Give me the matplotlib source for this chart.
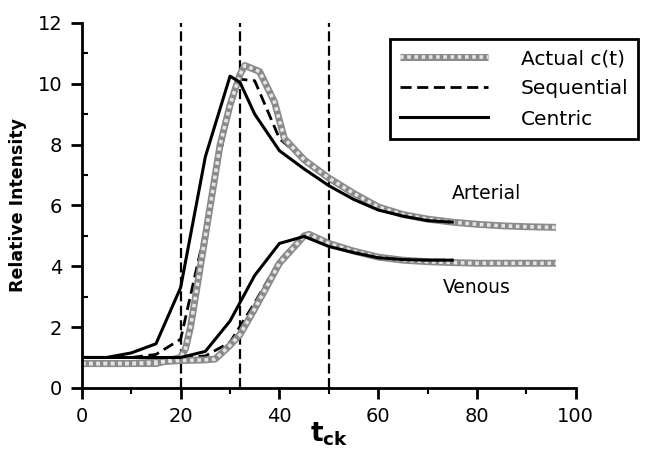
import matplotlib
matplotlib.use('Agg')
import matplotlib.pyplot as plt

# arterial curves
art_t_actual = [0, 5, 10, 15, 20, 21, 22, 24, 26, 28, 30, 32, 33, 36, 39, 41, 45, 50, 55, 60, 65, 70, 75, 80, 85, 90, 96]
art_actual = [0.8, 0.8, 0.8, 0.8, 1.0, 1.3, 2.0, 4.0, 6.0, 8.0, 9.3, 10.3, 10.6, 10.4, 9.4, 8.2, 7.5, 6.9, 6.4, 5.95, 5.7, 5.55, 5.45, 5.38, 5.33, 5.3, 5.28]
art_t_seq = [0, 5, 10, 15, 20, 25, 30, 32, 35, 40, 45, 50, 55, 60, 65, 70, 75]
art_seq = [1.0, 1.0, 1.0, 1.1, 1.6, 5.2, 9.3, 10.15, 10.1, 8.2, 7.5, 6.85, 6.35, 5.95, 5.7, 5.55, 5.45]
art_t_cen = [0, 5, 10, 15, 20, 25, 30, 32, 35, 40, 45, 50, 55, 60, 65, 70, 75]
art_cen = [1.0, 1.0, 1.15, 1.45, 3.3, 7.6, 10.25, 10.05, 9.0, 7.8, 7.2, 6.65, 6.2, 5.85, 5.65, 5.5, 5.45]

# venous curves
ven_t_actual = [0, 5, 10, 15, 20, 25, 27, 30, 32, 35, 40, 45, 46, 50, 55, 60, 65, 70, 75, 80, 85, 90, 96]
ven_actual = [0.8, 0.8, 0.8, 0.85, 0.9, 0.92, 0.95, 1.4, 1.75, 2.6, 4.1, 5.0, 5.05, 4.75, 4.5, 4.3, 4.2, 4.15, 4.12, 4.1, 4.1, 4.1, 4.1]
ven_t_seq = [0, 5, 10, 15, 20, 25, 30, 35, 40, 45, 50, 55, 60, 65, 70, 75]
ven_seq = [1.0, 1.0, 1.0, 1.0, 1.0, 1.05, 1.5, 2.8, 4.2, 5.05, 4.8, 4.5, 4.3, 4.22, 4.2, 4.2]
ven_t_cen = [0, 5, 10, 15, 20, 25, 30, 35, 40, 45, 50, 55, 60, 65, 70, 75]
ven_cen = [1.0, 1.0, 1.0, 1.0, 1.0, 1.2, 2.2, 3.7, 4.75, 4.98, 4.65, 4.45, 4.28, 4.22, 4.2, 4.2]

marks = [20, 32, 50]

fig = plt.figure(figsize=(6.55, 4.5), dpi=100)
ax = fig.add_axes([0.125, 0.138, 0.754, 0.811])

def gray(t, y):
    a, = ax.plot(t, y, color='#8a8a8a', lw=5.0, solid_capstyle='butt', zorder=2)
    b, = ax.plot(t, y, color='#e4e4e4', lw=2.6, ls=(0, (1, 1)), zorder=2.1)
    return a, b

g = gray(art_t_actual, art_actual)
gray(ven_t_actual, ven_actual)
s, = ax.plot(art_t_seq, art_seq, color='black', lw=2, ls=(0, (4, 2)), zorder=1.9)
ax.plot(ven_t_seq, ven_seq, color='black', lw=2, ls=(0, (4, 2)), zorder=1.9)
c, = ax.plot(art_t_cen, art_cen, color='black', lw=2.2, zorder=3)
ax.plot(ven_t_cen, ven_cen, color='black', lw=2.2, zorder=3)

for m in marks:
    ax.axvline(m, color='black', lw=1.6, ls=(0, (4.5, 2)), zorder=1)

ax.set_xlim(0, 100)
ax.set_ylim(0, 12)
ax.set_xticks(range(0, 101, 20))
ax.set_xticks(range(10, 100, 20), minor=True)
ax.set_yticks(range(0, 13, 2))
ax.set_yticks(range(1, 12, 2), minor=True)
for side in ['top', 'right']:
    ax.spines[side].set_visible(False)
for side in ['left', 'bottom']:
    ax.spines[side].set_linewidth(2)
ax.tick_params(which='major', length=8, width=2, labelsize=14, pad=6)
ax.tick_params(axis='y', which='minor', direction='in', length=4, width=1.5)
ax.tick_params(axis='x', which='minor', direction='out', length=4, width=1.5)

ax.set_ylabel('Relative Intensity', fontsize=12.5, fontweight='bold', labelpad=8)
ax.set_xlabel(r'$\mathbf{t_{ck}}$', fontsize=19, labelpad=-4)

ax.text(82, 6.4, 'Arterial', fontsize=13.5, ha='center', va='center')
ax.text(80, 3.3, 'Venous', fontsize=13.5, ha='center', va='center')

leg = fig.legend([g, s, c], ['Actual c(t)', 'Sequential', 'Centric'],
                 loc='upper right', bbox_to_anchor=(0.99, 0.935),
                 fontsize=14.5, handlelength=4.4, handletextpad=1.6,
                 borderpad=0.5, labelspacing=0.55, fancybox=False,
                 edgecolor='black', framealpha=1)
leg.get_frame().set_linewidth(2)

fig.savefig('out.png', dpi=100)
